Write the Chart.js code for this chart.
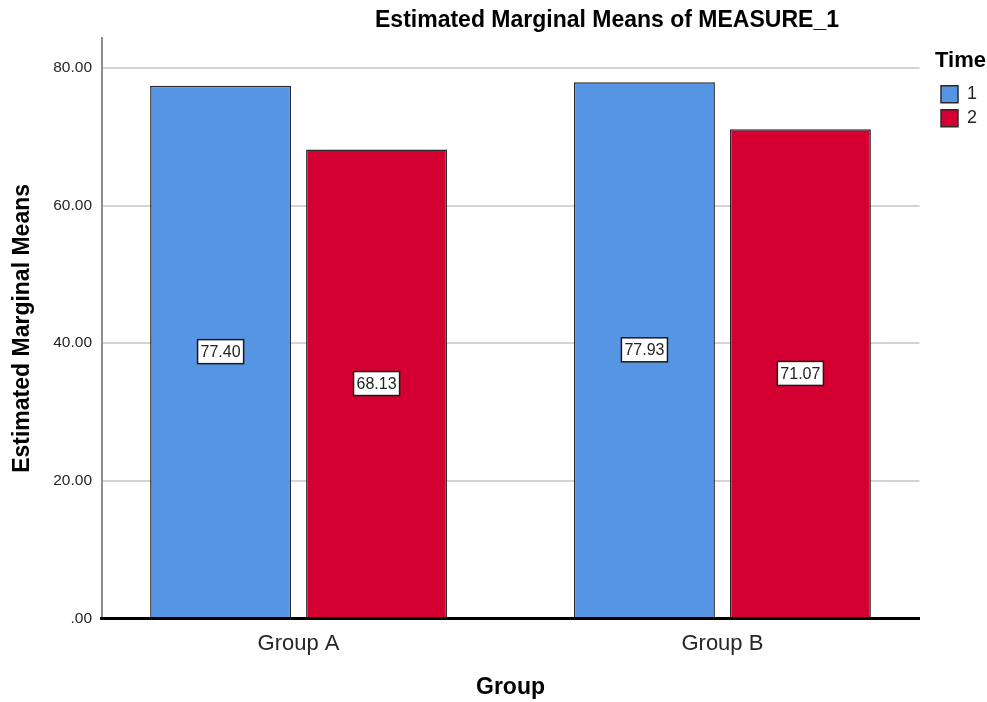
<!DOCTYPE html>
<html>
<head>
<meta charset="utf-8">
<script src="https://cdn.jsdelivr.net/npm/chart.js@4.4.1/dist/chart.umd.min.js"></script>
<style>
  body { margin: 0; background: #fff; }
  #wrap { position: relative; width: 987px; height: 702px; }
  #title {
    position: absolute; left: 607px; top: 6px; transform: translateX(-50%);
    font: bold 23px Arial, "Liberation Sans", sans-serif; line-height: 27px;
    color: #000; white-space: nowrap;
  }
</style>
</head>
<body>
<div id="wrap">
  <div id="title">Estimated Marginal Means of MEASURE_1</div>
  <canvas id="marginalChart"></canvas>
</div>
<script>
const groups = ["Group A", "Group B"];
const timeLevels = ["1", "2"];
const time1Means = [77.40, 77.93];
const time2Means = [68.13, 71.07];
const timeColors = ["#5595E3", "#D50032"];
const yMax = 84.3;

const fontFamily = 'Arial, "Liberation Sans", sans-serif';

// white value boxes in the middle of every bar
const valueBoxes = {
  id: "valueBoxes",
  afterDatasetsDraw(chart) {
    const ctx = chart.ctx;
    ctx.save();
    ctx.font = "16px " + fontFamily;
    ctx.textAlign = "center";
    ctx.textBaseline = "middle";
    chart.data.datasets.forEach((ds, di) => {
      chart.getDatasetMeta(di).data.forEach((bar, i) => {
        const text = ds.data[i].y.toFixed(2);
        const w = ctx.measureText(text).width + 6;
        const h = 24;
        const cx = bar.x;
        const cy = (bar.y + bar.base) / 2;
        ctx.fillStyle = "#fff";
        ctx.fillRect(cx - w / 2, cy - h / 2, w, h);
        ctx.lineWidth = 1.5;
        ctx.strokeStyle = "#1a1a1a";
        ctx.strokeRect(cx - w / 2, cy - h / 2, w, h);
        ctx.fillStyle = "#222";
        ctx.fillText(text, cx, cy + 1);
      });
    });
    ctx.restore();
  },
};

const series = [time1Means, time2Means];

let marginalChart = new Chart(document.getElementById("marginalChart").getContext("2d"), {
  type: "bar",
  data: {
    datasets: series.map((vals, s) => ({
      label: timeLevels[s],
      data: vals.map((v, i) => ({ x: i, y: v })),
      backgroundColor: timeColors[s],
      borderColor: "#2b2b2b",
      borderWidth: 1.5,
      categoryPercentage: 0.736,
      barPercentage: 0.904,
    })),
  },
  options: {
    responsive: true,
    maintainAspectRatio: false,
    animation: false,
    layout: { padding: { top: 38.3, right: 0, bottom: 0, left: 0 } },
    scales: {
      x: {
        type: "linear",
        offset: false,
        min: -0.465,
        max: 1.465,
        afterBuildTicks: (scale) => {
          scale.ticks = groups.map((g, i) => ({ value: i }));
        },
        afterFit: (scale) => {
          scale.height = 83.5;
        },
        grid: { display: false, drawTicks: false },
        border: { display: true, color: "#000", width: 3, z: 1 },
        ticks: {
          padding: 12,
          color: "#262626",
          font: { size: 22, family: fontFamily },
          callback: (v) => groups[v],
        },
        title: {
          display: true,
          text: "Group",
          color: "#000",
          font: { size: 23, weight: "bold", family: fontFamily },
          padding: { top: 0, bottom: 1 },
        },
      },
      y: {
        min: 0,
        max: yMax,
        afterFit: (scale) => {
          scale.width = 101.5;
        },
        grid: { color: "#d4d4d4", lineWidth: 2, drawTicks: false },
        border: { display: true, color: "#8c8c8c", width: 2 },
        ticks: {
          stepSize: 20,
          includeBounds: false,
          padding: 9.5,
          color: "#262626",
          font: { size: 15.5, family: fontFamily },
          callback: (v) => (v === 0 ? ".00" : v.toFixed(2)),
        },
        title: {
          display: true,
          text: "Estimated Marginal Means",
          color: "#000",
          font: { size: 23, weight: "bold", family: fontFamily },
          padding: { top: 9, bottom: 0 },
        },
      },
      // empty gap between the plot and the legend
      gap: {
        type: "linear",
        position: "right",
        grid: { display: false },
        border: { display: false },
        ticks: { display: false },
        afterFit: (scale) => {
          scale.width = 15.5;
        },
      },
    },
    plugins: {
      title: { display: false },
      tooltip: { enabled: false },
      legend: {
        position: "right",
        align: "start",
        title: {
          display: true,
          text: "Time",
          position: "start",
          color: "#000",
          font: { size: 22, weight: "bold", family: fontFamily },
          padding: { top: 11.4, bottom: 3.1 },
        },
        labels: {
          boxWidth: 17,
          boxHeight: 17,
          padding: 6,
          color: "#262626",
          font: { size: 18, family: fontFamily },
        },
      },
    },
  },
  plugins: [valueBoxes],
});
</script>
</body>
</html>
